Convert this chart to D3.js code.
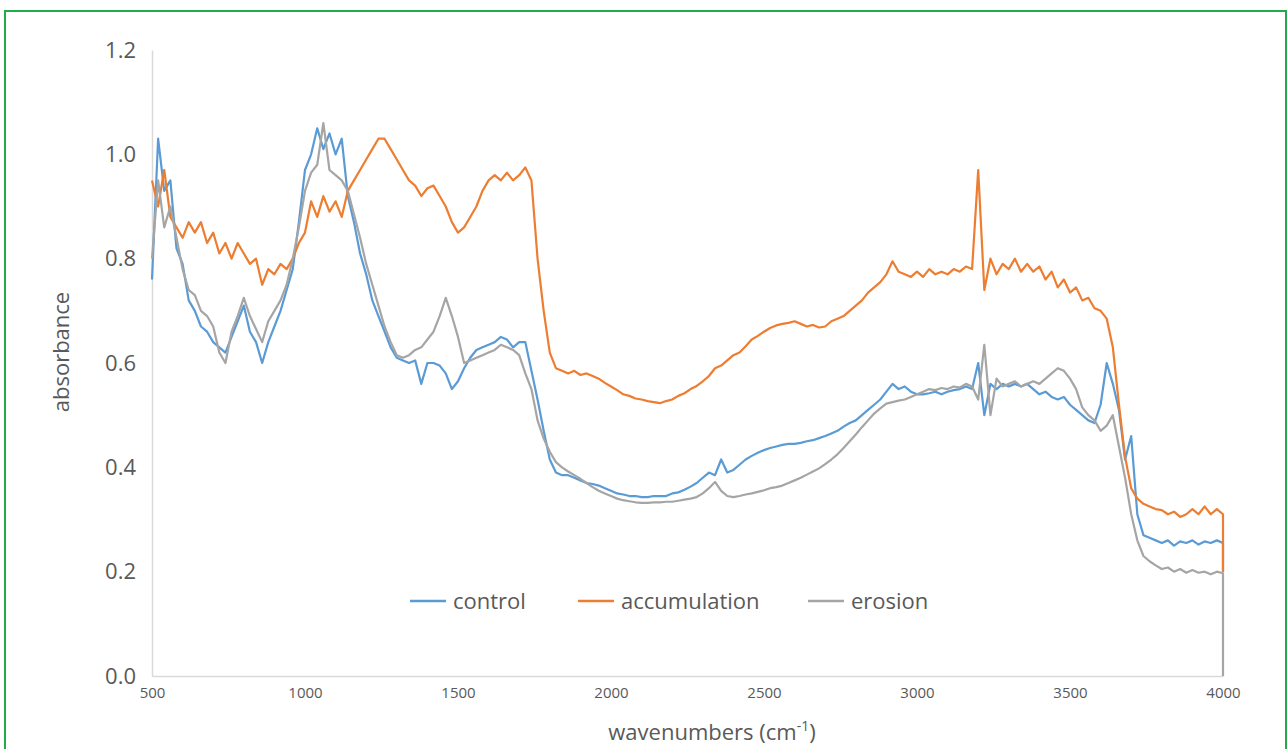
<!DOCTYPE html>
<html>
<head>
<meta charset="utf-8">
<script src="https://cdn.jsdelivr.net/npm/d3@7"></script>
<style>
  body { margin: 0; background: #fff; }
  svg { display: block; }
  text { font-family: "Open Sans", "Noto Sans", sans-serif; fill: #595959; }
</style>
</head>
<body>
<script>
// FTIR spectra, sampled every 20 cm-1 from 500 to 4000 (last point = drop at 4000)
const wavenumbers = d3.range(500, 4001, 20).concat([4000]);

const control = [
  0.76, 1.03, 0.93, 0.95, 0.82, 0.79, 0.72, 0.70, 0.67, 0.66,
  0.64, 0.63, 0.62, 0.65, 0.68, 0.71, 0.66, 0.64, 0.60, 0.64,
  0.67, 0.70, 0.74, 0.78, 0.87, 0.97, 1.00, 1.05, 1.01, 1.04,
  1.00, 1.03, 0.92, 0.87, 0.81, 0.77, 0.72, 0.69, 0.66, 0.63,
  0.61, 0.605, 0.60, 0.605, 0.56, 0.60, 0.60, 0.595, 0.58, 0.55,
  0.565, 0.59, 0.61, 0.625, 0.63, 0.635, 0.64, 0.65, 0.645, 0.63,
  0.64, 0.64, 0.585, 0.53, 0.47, 0.415, 0.39, 0.385, 0.385, 0.38,
  0.375, 0.37, 0.368, 0.365, 0.36, 0.355, 0.35, 0.348, 0.345, 0.345,
  0.343, 0.343, 0.345, 0.345, 0.345, 0.35, 0.352, 0.357, 0.363, 0.37,
  0.38, 0.39, 0.385, 0.415, 0.39, 0.395, 0.405, 0.415, 0.422, 0.428,
  0.433, 0.437, 0.44, 0.443, 0.445, 0.445, 0.447, 0.45, 0.452, 0.456,
  0.46, 0.465, 0.47, 0.478, 0.485, 0.49, 0.50, 0.51, 0.52, 0.53,
  0.545, 0.56, 0.55, 0.555, 0.545, 0.54, 0.54, 0.542, 0.545, 0.54,
  0.545, 0.548, 0.55, 0.555, 0.55, 0.60, 0.50, 0.56, 0.55, 0.56,
  0.555, 0.56, 0.555, 0.56, 0.55, 0.54, 0.545, 0.535, 0.53, 0.535,
  0.52, 0.51, 0.50, 0.49, 0.485, 0.52, 0.60, 0.56, 0.51, 0.415,
  0.46, 0.31, 0.27, 0.265, 0.26, 0.255, 0.26, 0.25, 0.258, 0.255,
  0.26, 0.252, 0.258, 0.255, 0.26, 0.255, 0.20
];

const accumulation = [
  0.95, 0.90, 0.97, 0.88, 0.86, 0.84, 0.87, 0.85, 0.87, 0.83,
  0.85, 0.81, 0.83, 0.80, 0.83, 0.81, 0.79, 0.80, 0.75, 0.78,
  0.77, 0.79, 0.78, 0.80, 0.83, 0.85, 0.91, 0.88, 0.92, 0.89,
  0.91, 0.88, 0.93, 0.95, 0.97, 0.99, 1.01, 1.03, 1.03, 1.01,
  0.99, 0.97, 0.95, 0.94, 0.92, 0.935, 0.94, 0.92, 0.90, 0.87,
  0.85, 0.86, 0.88, 0.90, 0.93, 0.95, 0.96, 0.95, 0.965, 0.95,
  0.96, 0.975, 0.95, 0.80, 0.70, 0.62, 0.59, 0.585, 0.58, 0.585,
  0.577, 0.58, 0.575, 0.57, 0.562, 0.555, 0.548, 0.54, 0.537, 0.532,
  0.53, 0.527, 0.525, 0.523, 0.527, 0.53, 0.537, 0.542, 0.55, 0.556,
  0.565, 0.575, 0.59, 0.595, 0.605, 0.615, 0.62, 0.632, 0.645, 0.652,
  0.66, 0.667, 0.672, 0.675, 0.677, 0.68, 0.675, 0.67, 0.673, 0.668,
  0.67, 0.68, 0.685, 0.69, 0.70, 0.71, 0.72, 0.735, 0.745, 0.755,
  0.77, 0.795, 0.775, 0.77, 0.765, 0.775, 0.765, 0.78, 0.77, 0.775,
  0.77, 0.78, 0.775, 0.785, 0.78, 0.97, 0.74, 0.80, 0.77, 0.79,
  0.78, 0.80, 0.775, 0.79, 0.775, 0.785, 0.76, 0.775, 0.745, 0.76,
  0.735, 0.745, 0.72, 0.725, 0.705, 0.70, 0.685, 0.63, 0.52, 0.42,
  0.36, 0.34, 0.33, 0.325, 0.32, 0.318, 0.31, 0.315, 0.305, 0.31,
  0.32, 0.31, 0.325, 0.31, 0.32, 0.31, 0.20
];

const erosion = [
  0.80, 0.95, 0.86, 0.90, 0.84, 0.78, 0.74, 0.73, 0.70, 0.69,
  0.67, 0.62, 0.60, 0.66, 0.69, 0.725, 0.69, 0.665, 0.64, 0.68,
  0.70, 0.72, 0.75, 0.80, 0.86, 0.93, 0.965, 0.98, 1.06, 0.97,
  0.96, 0.95, 0.93, 0.885, 0.84, 0.79, 0.75, 0.71, 0.67, 0.64,
  0.615, 0.61, 0.615, 0.625, 0.63, 0.645, 0.66, 0.69, 0.725, 0.69,
  0.65, 0.60, 0.605, 0.61, 0.615, 0.62, 0.625, 0.635, 0.63, 0.625,
  0.615, 0.58, 0.55, 0.49, 0.455, 0.43, 0.41, 0.40, 0.392, 0.385,
  0.378, 0.37, 0.362, 0.355, 0.35, 0.345, 0.34, 0.337, 0.335, 0.333,
  0.332, 0.332, 0.333, 0.333, 0.334, 0.334, 0.336, 0.338, 0.34, 0.343,
  0.35, 0.36, 0.372, 0.355, 0.345, 0.343, 0.345, 0.348, 0.35, 0.353,
  0.356, 0.36, 0.362, 0.365, 0.37, 0.375, 0.38, 0.386, 0.392, 0.398,
  0.406, 0.415, 0.425, 0.437, 0.45, 0.463, 0.477, 0.49, 0.503, 0.513,
  0.522, 0.525, 0.528, 0.53, 0.535, 0.54, 0.545, 0.55, 0.548, 0.552,
  0.55, 0.555, 0.553, 0.56, 0.555, 0.53, 0.635, 0.50, 0.57, 0.555,
  0.56, 0.565, 0.555, 0.56, 0.565, 0.56, 0.57, 0.58, 0.59, 0.585,
  0.57, 0.55, 0.515, 0.50, 0.49, 0.47, 0.48, 0.50, 0.44, 0.38,
  0.31, 0.26, 0.23, 0.22, 0.212, 0.205, 0.208, 0.20, 0.205, 0.198,
  0.203, 0.198, 0.20, 0.195, 0.20, 0.197, 0.0
];

const seriesNames = ["control", "accumulation", "erosion"];
const seriesColors = ["#5b9bd5", "#ed7d31", "#a5a5a5"];
const seriesValues = [control, accumulation, erosion];
const yTicks = [0, 0.2, 0.4, 0.6, 0.8, 1.0, 1.2];
const xTicks = [500, 1000, 1500, 2000, 2500, 3000, 3500, 4000];

const width = 1288, height = 749;
const svg = d3.select("body").append("svg")
    .attr("width", width)
    .attr("height", height);

// green frame
svg.append("rect")
    .attr("x", 5).attr("y", 11)
    .attr("width", 1281).attr("height", 760)
    .attr("fill", "none")
    .attr("stroke", "#1fad4b")
    .attr("stroke-width", 2);

const x = d3.scaleLinear().domain([500, 4000]).range([152, 1223]);
const y = d3.scaleLinear().domain([0, 1.2]).range([676, 50]);

// axes
const yAxis = svg.append("g")
    .attr("transform", "translate(152,0)")
    .call(d3.axisLeft(y).tickValues(yTicks).tickFormat(d3.format(".1f")).tickSize(0).tickPadding(16));
yAxis.select(".domain").attr("stroke", "#d9d9d9").attr("stroke-width", 1.5);
yAxis.selectAll("text").style("font-size", "22px").attr("fill", "#595959");

const xAxis = svg.append("g")
    .attr("transform", "translate(0,676)")
    .call(d3.axisBottom(x).tickValues(xTicks).tickFormat(d3.format("d")).tickSize(0).tickPadding(11));
xAxis.select(".domain").attr("stroke", "#d9d9d9").attr("stroke-width", 1.5);
xAxis.selectAll("text").style("font-size", "15px").attr("fill", "#595959");

// lines
const line = d3.line()
    .x((d, i) => x(wavenumbers[i]))
    .y(d => y(d));

svg.append("g")
  .selectAll("path")
  .data(seriesValues)
  .enter().append("path")
    .attr("d", line)
    .attr("fill", "none")
    .attr("stroke", (d, i) => seriesColors[i])
    .attr("stroke-width", 2.2)
    .attr("stroke-linejoin", "round");

// axis titles
svg.append("text")
    .attr("transform", "translate(69,352) rotate(-90)")
    .attr("text-anchor", "middle")
    .style("font-size", "22px")
    .text("absorbance");

const xt = svg.append("text")
    .attr("x", 712).attr("y", 740)
    .attr("text-anchor", "middle")
    .style("font-size", "22px");
xt.append("tspan").text("wavenumbers (cm");
xt.append("tspan").attr("dy", -9).style("font-size", "14px").text("-1");
xt.append("tspan").attr("dy", 9).text(")");

// legend
const legendX = [410, 578, 808];
const legend = svg.append("g")
  .selectAll("g")
  .data(seriesNames)
  .enter().append("g")
    .attr("transform", (d, i) => `translate(${legendX[i]},601)`);
legend.append("line")
    .attr("x1", 0).attr("x2", 36)
    .attr("stroke", (d, i) => seriesColors[i])
    .attr("stroke-width", 2.5);
legend.append("text")
    .attr("x", 43).attr("y", 8)
    .style("font-size", "22px")
    .text(d => d);
</script>
</body>
</html>
